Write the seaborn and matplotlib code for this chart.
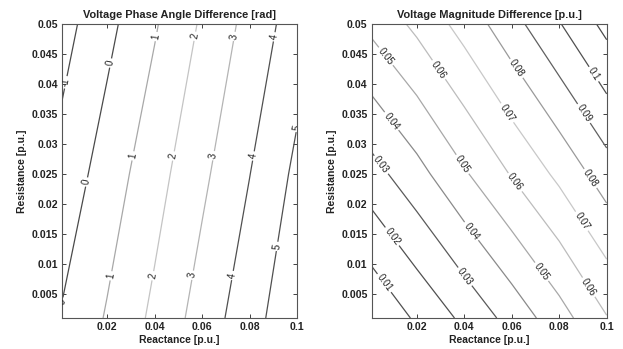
import numpy as np
import matplotlib
matplotlib.use("Agg")
import matplotlib.pyplot as plt
import seaborn as sns

# grid nodes (p.u.) and field values
reactance = [0.001, 0.02, 0.04, 0.06, 0.08, 0.1]
resistance = [0.001, 0.025, 0.05]

phase_diff = [
    [0.08, 1.09, 2.22, 3.43, 4.61, 5.75],
    [-0.64, 0.46, 1.61, 2.79, 3.98, 5.22],
    [-1.38, -0.28, 0.90, 2.13, 3.33, 4.51],
]
mag_diff = [
    [0.0009, 0.0115, 0.0222, 0.0336, 0.0459, 0.0595],
    [0.0262, 0.0365, 0.0488, 0.0607, 0.0723, 0.0852],
    [0.0525, 0.0623, 0.0738, 0.0864, 0.0994, 0.1129],
]

phase_levels = [-1, 0, 1, 2, 3, 4, 5]
mag_levels = [0.01, 0.02, 0.03, 0.04, 0.05, 0.06, 0.07, 0.08, 0.09, 0.10, 0.11]

x_ticks = [0.02, 0.04, 0.06, 0.08, 0.1]
y_ticks = [0.005, 0.01, 0.015, 0.02, 0.025, 0.03, 0.035, 0.04, 0.045, 0.05]

# line greys (jet colormap printed in greyscale)
phase_colors = ["#4a4a4a", "#4a4a4a", "#a8a8a8", "#c4c4c4", "#b4b4b4", "#505050", "#505050"]
mag_colors = ["#505050", "#505050", "#5a5a5a", "#8a8a8a", "#a8a8a8", "#bcbcbc",
              "#c8c8c8", "#9a9a9a", "#606060", "#505050", "#4a4a4a"]

# where the inline labels sit
phase_label_pos = [(0.0024, 0.0403), (0.0227, 0.0434), (0.0122, 0.0236), (0.0024, 0.0035),
                   (0.0407, 0.0479), (0.0312, 0.028), (0.0221, 0.008),
                   (0.0579, 0.0479), (0.048, 0.028), (0.0399, 0.008),
                   (0.074, 0.0479), (0.0656, 0.028), (0.0579, 0.008),
                   (0.0899, 0.0479), (0.0817, 0.028), (0.074, 0.008),
                   (0.0922, 0.0129), (0.0985, 0.033)]
mag_label_pos = [(0.0066, 0.0445), (0.029, 0.0423), (0.062, 0.0426), (0.0585, 0.0353),
                 (0.0936, 0.0414), (0.0901, 0.035), (0.0087, 0.0336), (0.0052, 0.0266),
                 (0.0403, 0.0269), (0.062, 0.0238), (0.0929, 0.0242), (0.0087, 0.0143),
                 (0.0438, 0.0157), (0.0894, 0.0171), (0.0052, 0.0065), (0.0403, 0.0079),
                 (0.0719, 0.0085), (0.0915, 0.0059)]

sns.set_theme(style="ticks")
plt.rcParams["font.family"] = ["Liberation Sans", "DejaVu Sans"]

X, Y = np.meshgrid(reactance, resistance)

fig = plt.figure(figsize=(6.23, 3.49), dpi=100)
ax1 = fig.add_axes([0.0995, 0.0888, 0.3772, 0.8424])
ax2 = fig.add_axes([0.5966, 0.0888, 0.3772, 0.8424])

panels = [
    (ax1, phase_diff, phase_levels, phase_colors, phase_label_pos,
     "Voltage Phase Angle Difference [rad]"),
    (ax2, mag_diff, mag_levels, mag_colors, mag_label_pos,
     "Voltage Magnitude Difference [p.u.]"),
]

for ax, Z, levels, colors, label_pos, title in panels:
    cs = ax.contour(X, Y, np.array(Z), levels=levels, colors=colors, linewidths=0.9)
    ax.clabel(cs, fmt="%g", fontsize=7, colors="#222222", inline=True,
              inline_spacing=2, manual=label_pos)

    ax.set_xlim(0.001, 0.1)
    ax.set_ylim(0.001, 0.05)
    ax.set_xticks(x_ticks)
    ax.set_xticklabels([f"{v:g}" for v in x_ticks])
    ax.set_yticks(y_ticks)
    ax.set_yticklabels([f"{v:g}" for v in y_ticks])
    ax.tick_params(direction="in", top=True, right=True, length=3, width=0.6,
                   labelsize=7.6, pad=3, colors="#222222")
    for lbl in ax.get_xticklabels() + ax.get_yticklabels():
        lbl.set_fontweight("bold")
    for sp in ax.spines.values():
        sp.set_color("#555555")
        sp.set_linewidth(0.8)

    ax.set_title(title, fontsize=7.9, fontweight="bold", color="#222222", pad=4)
    ax.set_xlabel("Reactance [p.u.]", fontsize=7.5, fontweight="bold", color="#222222", labelpad=2)
    ax.set_ylabel("Resistance [p.u.]", fontsize=7.5, fontweight="bold", color="#222222", labelpad=3)

fig.savefig("out.png", dpi=100, facecolor="white")
